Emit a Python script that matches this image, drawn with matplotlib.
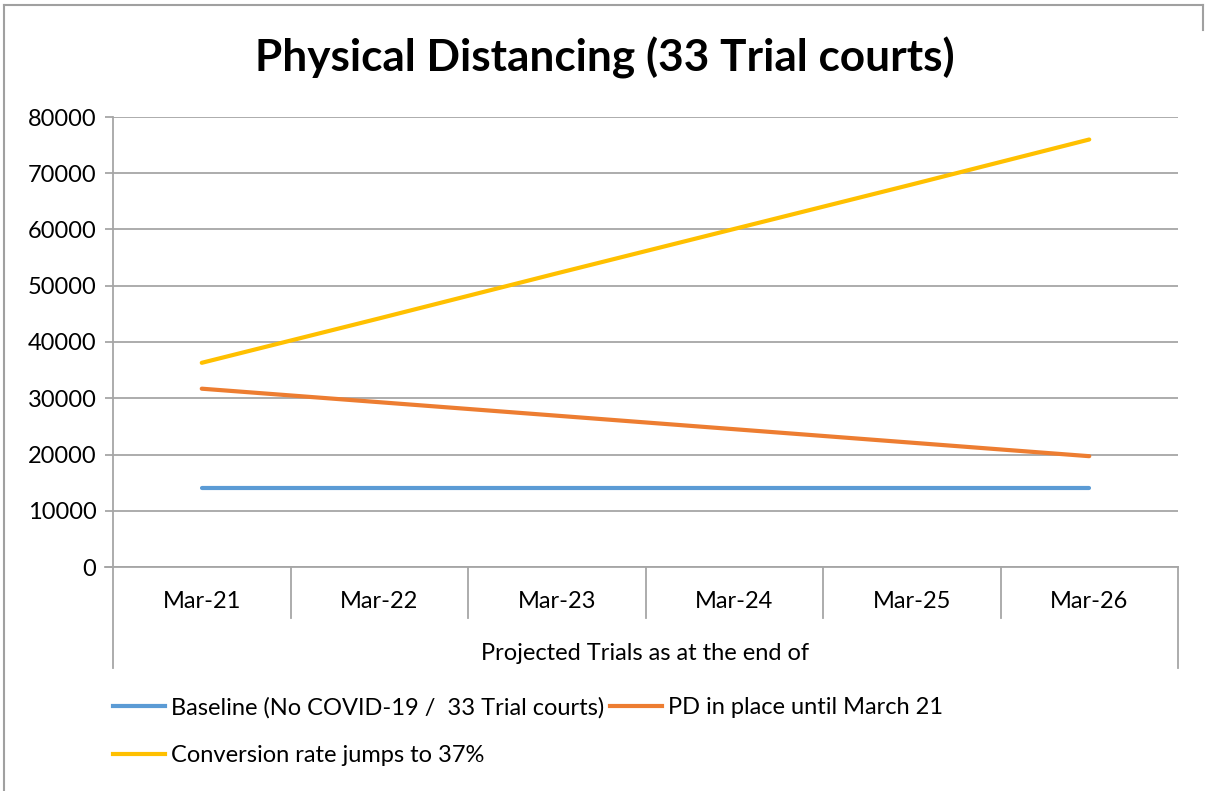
"""Recreate the Physical Distancing projection chart."""

import matplotlib
matplotlib.use('Agg')
import matplotlib.pyplot as plt
from matplotlib.lines import Line2D

plt.rcParams['font.family'] = ['Lato', 'DejaVu Sans']

# data
categories = ['Mar-21', 'Mar-22', 'Mar-23', 'Mar-24', 'Mar-25', 'Mar-26']
baseline = [14000, 14000, 14000, 14000, 14000, 14000]
pd_until_march = [31700, 29300, 26900, 24500, 22100, 19700]
conversion_37 = [36300, 44200, 52200, 60100, 68000, 76000]
series_names = ['Baseline (No COVID-19 /  33 Trial courts)',
                'PD in place until March 21',
                'Conversion rate jumps to 37%']
yticks = [0, 10000, 20000, 30000, 40000, 50000, 60000, 70000, 80000]
group_label = 'Projected Trials as at the end of'
title = 'Physical Distancing (33 Trial courts)'

colors = ['#5B9BD5', '#ED7D31', '#FFC000']
grid_color = '#A6A6A6'
fs = 17
W, H = 1206, 791

fig = plt.figure(figsize=(W / 100, H / 100), dpi=100)
# plot area in pixels: x 113..1178, y 117..567
ax = fig.add_axes([113 / W, (H - 567) / H, (1178 - 113) / W, (567 - 117) / H])

x = list(range(len(categories)))
for vals, name, c in zip([baseline, pd_until_march, conversion_37], series_names, colors):
    ax.plot(x, vals, color=c, lw=3, label=name, solid_capstyle='round')

ax.set_xlim(-0.5, len(categories) - 0.5)
ax.set_ylim(0, 80000)
ax.set_yticks(yticks)
ax.set_yticklabels([str(t) for t in yticks], fontsize=fs)
ax.yaxis.grid(True, color=grid_color, lw=1.3)
ax.set_axisbelow(True)
ax.tick_params(axis='y', length=6, color=grid_color, pad=6, width=1.3)
ax.set_xticks([])

for s in ['top', 'right']:
    ax.spines[s].set_visible(False)
for s in ['left', 'bottom']:
    ax.spines[s].set_color(grid_color)
    ax.spines[s].set_linewidth(1.3)

# extend the zero line a little to the left, like a tick
trans = ax.get_yaxis_transform()
ax.plot([-8 / (1178 - 113), 0], [0, 0], color=grid_color, lw=1.3,
        transform=trans, clip_on=False)

# multi level category axis
xtrans = ax.get_xaxis_transform()
inner_bottom = -(618 - 567) / 450
outer_bottom = -(668 - 567) / 450
for i in range(len(categories) + 1):
    pos = i - 0.5
    y_end = outer_bottom if i in (0, len(categories)) else inner_bottom
    ax.plot([pos, pos], [0, y_end], color=grid_color, lw=1.3,
            transform=xtrans, clip_on=False)
for i, cat in enumerate(categories):
    ax.text(i, -(602 - 567) / 450, cat, transform=xtrans, ha='center',
            va='center', fontsize=fs)
ax.text((len(categories) - 1) / 2, -(653 - 567) / 450, group_label,
        transform=xtrans, ha='center', va='center', fontsize=fs)

fig.text(605 / W, 1 - 58 / H, title, ha='center', va='center',
         fontsize=31.8, fontweight='bold')

# legend fills column-wise: baseline + conversion in col 1, PD in col 2
handles = [Line2D([], [], color=c, lw=3) for c in colors]
order = [0, 2, 1]
fig.legend([handles[i] for i in order], [series_names[i] for i in order],
           ncol=2, loc='upper left',
           bbox_to_anchor=(101 / W, 1 - 685 / H), frameon=False,
           fontsize=fs, handlelength=2.2, handletextpad=0.25,
           columnspacing=0.25, labelspacing=1.15, borderpad=0)

# chart border (left, top, short bit on the right)
border = dict(color='#A0A0A0', lw=1.5, transform=fig.transFigure)
fig.add_artist(Line2D([4 / W, 4 / W], [0, 1 - 5 / H], **border))
fig.add_artist(Line2D([4 / W, 1203 / W], [1 - 5 / H, 1 - 5 / H], **border))
fig.add_artist(Line2D([1203 / W, 1203 / W], [1 - 5 / H, 1 - 30 / H], **border))

fig.savefig('out.png', dpi=100)
